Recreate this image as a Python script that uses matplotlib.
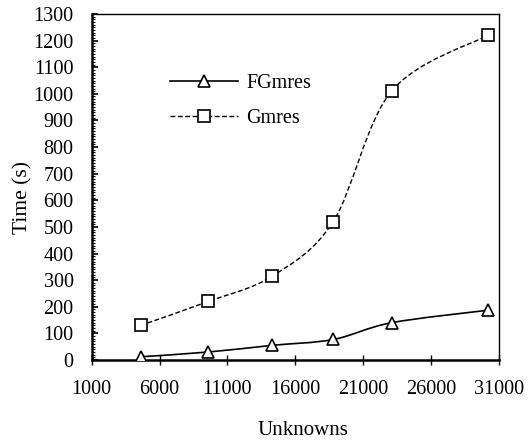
import numpy as np
from matplotlib import pyplot as plt
from matplotlib.path import Path
from matplotlib.patches import PathPatch
from matplotlib.lines import Line2D
from matplotlib.ticker import MultipleLocator

unknowns = [4600, 9600, 14300, 18800, 23100, 30200]
fgmres = [12, 30, 55, 77, 140, 187]
gmres = [130, 220, 315, 520, 1010, 1220]

x_ticks = [1000, 6000, 11000, 16000, 21000, 26000, 31000]
y_ticks = list(range(0, 1301, 100))

plt.rcParams['font.family'] = ['Liberation Serif', 'DejaVu Serif']


def smooth_path(xs, ys):
    # curva suave tipo Excel (Catmull-Rom como Bezier cubica)
    pts = np.column_stack([xs, ys]).astype(float)
    n = len(pts)
    verts = [pts[0]]
    codes = [Path.MOVETO]
    for i in range(n - 1):
        p0 = pts[i - 1] if i > 0 else pts[i]
        p1 = pts[i]
        p2 = pts[i + 1]
        p3 = pts[i + 2] if i + 2 < n else pts[i + 1]
        c1 = p1 + (p2 - p0) / 6.0
        c2 = p2 - (p3 - p1) / 6.0
        verts += [c1, c2, p2]
        codes += [Path.CURVE4] * 3
    return Path(verts, codes)


fig = plt.figure(figsize=(5.32, 4.41), dpi=100)
ax = fig.add_axes([0.1724, 0.1837, 0.7650, 0.7846])

ax.add_patch(PathPatch(smooth_path(unknowns, fgmres), facecolor='none',
                       edgecolor='black', lw=1.2))
ax.add_patch(PathPatch(smooth_path(unknowns, gmres), facecolor='none',
                       edgecolor='black', lw=1.0, linestyle=(0, (3.5, 1.8))))

ax.plot(unknowns, fgmres, linestyle='none', marker='^', ms=9.0,
        mfc='white', mec='black', mew=1.2, zorder=3)
ax.plot(unknowns, gmres, linestyle='none', marker='s', ms=8.2,
        mfc='white', mec='black', mew=1.2, zorder=3)

ax.set_xlim(1000, 31000)
ax.set_ylim(0, 1300)
ax.set_xticks(x_ticks)
ax.set_yticks(y_ticks)
ax.yaxis.set_minor_locator(MultipleLocator(10))

ax.tick_params(axis='y', which='major', direction='in', length=4, width=1.2,
               labelsize=14.5, pad=13)
ax.tick_params(axis='y', which='minor', direction='in', length=2.5, width=0.8)
ax.tick_params(axis='x', which='major', direction='inout', length=7, width=1.0,
               labelsize=14.5, pad=11)

for side in ['left', 'bottom']:
    ax.spines[side].set_linewidth(1.8)
for side in ['top', 'right']:
    ax.spines[side].set_linewidth(1.0)

ax.set_xlabel('Unknowns', fontsize=15)
ax.set_ylabel('Time (s)', fontsize=15.5)
ax.xaxis.set_label_coords(0.52, -0.176)
ax.yaxis.set_label_coords(-0.146, 0.47)

handles = [
    Line2D([], [], color='black', lw=1.2, marker='^', ms=9.0, mfc='white',
           mec='black', mew=1.2),
    Line2D([], [], color='black', lw=1.0, linestyle=(0, (3.5, 1.8)), marker='s',
           ms=8.2, mfc='white', mec='black', mew=1.2),
]
ax.legend(handles, ['FGmres', 'Gmres'], loc='upper left',
          bbox_to_anchor=(0.172, 0.85), frameon=False, fontsize=14.5,
          handlelength=3.4, handletextpad=0.4, labelspacing=0.8,
          numpoints=1, borderaxespad=0)

plt.savefig('out.png', dpi=100, facecolor='white')
